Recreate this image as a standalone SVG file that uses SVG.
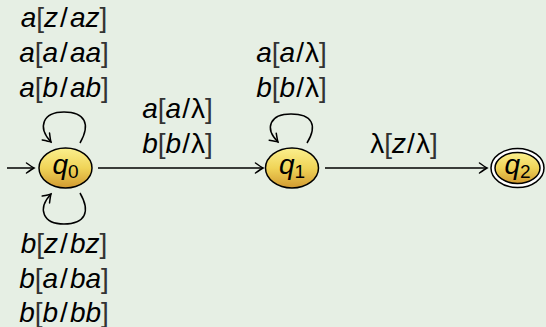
<svg xmlns="http://www.w3.org/2000/svg" width="546" height="327" viewBox="0 0 546 327">
<style>
.lbl{font-family:"Liberation Sans","Noto Sans",sans-serif;font-size:28px;fill:#000;text-anchor:middle}
.i{font-style:italic}
.br{fill:#333}
.node{stroke:#000;stroke-width:1.5;fill:url(#g)}
.edge{fill:none;stroke:#000;stroke-width:1.5;marker-end:url(#arr)}
.st{font-family:"Liberation Sans","Noto Sans",sans-serif;fill:#000}
</style>
<defs>
<linearGradient id="g" x1="0" y1="0" x2="0" y2="1">
<stop offset="0" stop-color="#fbf08e"/>
<stop offset="0.5" stop-color="#f0d458"/>
<stop offset="1" stop-color="#d29a30"/>
</linearGradient>
<marker id="arr" markerUnits="userSpaceOnUse" viewBox="-10 -7 12 14" markerWidth="12" markerHeight="14" refX="0" refY="0" orient="auto">
<path d="M-7.5,-5 Q-2,-1 0,0 Q-2,1 -7.5,5" fill="none" stroke="#000" stroke-width="1.5" stroke-linecap="round"/>
</marker>
</defs>
<rect width="546" height="327" fill="#e6efe4"/>
<g id="connectors">
<path class="edge" d="M7,168 L34,168"/>
<path class="edge" d="M98,168 L263,168"/>
<path class="edge" d="M325,168 L487,168"/>
<path class="edge" d="M80,143 C91,124 85,112 64,112 C43,112 37,127 51,142"/>
<path class="edge" d="M80,193 C91,212 85,224 64,224 C43,224 37,209 51,194"/>
<path class="edge" d="M307,143 C318,125 312,114 291,114 C270,114 264,128 278,142"/>
</g>
<g id="labels">
<text class="lbl" x="64" y="27"><tspan class="i">a</tspan><tspan class="br">[</tspan><tspan class="i">z</tspan><tspan dx="2">/</tspan><tspan class="i" dx="2">az</tspan><tspan class="br">]</tspan></text>
<text class="lbl" x="64" y="62"><tspan class="i">a</tspan><tspan class="br">[</tspan><tspan class="i">a</tspan><tspan dx="2">/</tspan><tspan class="i" dx="2">aa</tspan><tspan class="br">]</tspan></text>
<text class="lbl" x="64" y="97"><tspan class="i">a</tspan><tspan class="br">[</tspan><tspan class="i">b</tspan><tspan dx="2">/</tspan><tspan class="i" dx="2">ab</tspan><tspan class="br">]</tspan></text>
<text class="lbl" x="64" y="253"><tspan class="i">b</tspan><tspan class="br">[</tspan><tspan class="i">z</tspan><tspan dx="2">/</tspan><tspan class="i" dx="2">bz</tspan><tspan class="br">]</tspan></text>
<text class="lbl" x="64" y="288"><tspan class="i">b</tspan><tspan class="br">[</tspan><tspan class="i">a</tspan><tspan dx="2">/</tspan><tspan class="i" dx="2">ba</tspan><tspan class="br">]</tspan></text>
<text class="lbl" x="64" y="322"><tspan class="i">b</tspan><tspan class="br">[</tspan><tspan class="i">b</tspan><tspan dx="2">/</tspan><tspan class="i" dx="2">bb</tspan><tspan class="br">]</tspan></text>
<text class="lbl" x="177.5" y="118"><tspan class="i">a</tspan><tspan class="br">[</tspan><tspan class="i">a</tspan><tspan dx="1">/</tspan><tspan dx="1">λ</tspan><tspan class="br">]</tspan></text>
<text class="lbl" x="177.5" y="153"><tspan class="i">b</tspan><tspan class="br">[</tspan><tspan class="i">b</tspan><tspan dx="1">/</tspan><tspan dx="1">λ</tspan><tspan class="br">]</tspan></text>
<text class="lbl" x="291.5" y="62"><tspan class="i">a</tspan><tspan class="br">[</tspan><tspan class="i">a</tspan><tspan dx="1">/</tspan><tspan dx="1">λ</tspan><tspan class="br">]</tspan></text>
<text class="lbl" x="291.5" y="97"><tspan class="i">b</tspan><tspan class="br">[</tspan><tspan class="i">b</tspan><tspan dx="1">/</tspan><tspan dx="1">λ</tspan><tspan class="br">]</tspan></text>
<text class="lbl" x="404" y="153">λ<tspan class="br">[</tspan><tspan class="i">z</tspan><tspan dx="1">/</tspan><tspan dx="1">λ</tspan><tspan class="br">]</tspan></text>
</g>
<g id="q0">
<ellipse class="node" cx="65.5" cy="168" rx="26.5" ry="20"/>
<text class="st" x="52.5" y="174" font-size="28" font-style="italic">q</text>
<text class="st" x="68" y="178" font-size="19">0</text>
</g>
<g id="q1">
<ellipse class="node" cx="292" cy="168" rx="26.5" ry="20"/>
<text class="st" x="279" y="174" font-size="28" font-style="italic">q</text>
<text class="st" x="294.5" y="178" font-size="19">1</text>
</g>
<g id="q2">
<ellipse cx="517.5" cy="168" rx="26.5" ry="19.5" fill="#fff" stroke="#000" stroke-width="1.5"/>
<ellipse class="node" cx="517.5" cy="168" rx="22.5" ry="15.5"/>
<text class="st" x="504.5" y="174" font-size="28" font-style="italic">q</text>
<text class="st" x="520" y="178" font-size="19">2</text>
</g>
</svg>
